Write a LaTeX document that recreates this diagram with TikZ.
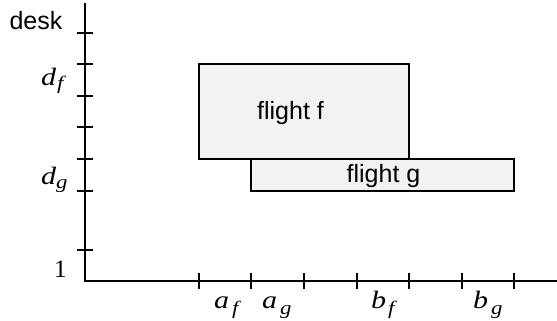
\documentclass[tikz,border=0pt]{standalone}
\usepackage{fontspec}
\setmainfont{Liberation Serif}
\newfontfamily\arialf{Liberation Sans}
\begin{document}
\begin{tikzpicture}[x=1pt,y=-1pt,
  axis/.style={line width=2.6pt},
  tickmark/.style={line width=2pt},
  flightbox/.style={draw,line width=2pt,fill=black!5,inner sep=0pt},
  sanslabel/.style={font=\arialf\fontsize{25}{28}\selectfont,inner sep=0pt},
  mathlabel/.style={font=\fontsize{25}{28}\selectfont\itshape,inner sep=0pt,anchor=base west,xscale=1.2},
  sub/.style={font=\fontsize{19}{21}\selectfont\itshape,inner sep=0pt,anchor=base west,xscale=1.2}]
\useasboundingbox (0,0) rectangle (557,321);
% axes
\coordinate (O) at (85,281);
\coordinate (ytop) at (85,3);
\coordinate (xend) at (557,281);
\draw[axis] (ytop) -- (O) -- (xend);
% y ticks
\foreach \y/\n in {33/y1,64/y2,96/y3,127/y4,159/y5,191/y6,250/y7}{
  \coordinate (\n l) at (77,\y);
  \coordinate (\n r) at (93,\y);
  \draw[tickmark] (\n l) -- (\n r);
}
% x ticks
\foreach \x/\n in {199/x1,251/x2,304/x3,357/x4,409/x5,462/x6,514/x7}{
  \coordinate (\n t) at (\x,273);
  \coordinate (\n b) at (\x,289);
  \draw[tickmark] (\n t) -- (\n b);
}
% boxes
\node[flightbox,minimum width=210pt,minimum height=95pt] (f) at (304,111.5) {};
\node[flightbox,minimum width=263pt,minimum height=32pt] (g) at (382.5,175) {};
\node[sanslabel] (ft) at (290.5,113) {flight f};
\node[sanslabel] (gt) at (383.5,176) {flight g};
% labels
\node[sanslabel] (desk) at (36,21) {desk};
\node[mathlabel] (df) at (41,85) {d};
\node[sub] (dfs) at (57,89) {f};
\node[mathlabel] (dg) at (41,184) {d};
\node[sub] (dgs) at (56,188) {g};
\node[font=\fontsize{25}{28}\selectfont,inner sep=0pt,anchor=base west] (one) at (54,277) {1};
\node[mathlabel] (af) at (214,308) {a};
\node[sub] (afs) at (232,314) {f};
\node[mathlabel] (ag) at (262,308) {a};
\node[sub] (ags) at (280,314) {g};
\node[mathlabel] (bf) at (371,308) {b};
\node[sub] (bfs) at (388,314) {f};
\node[mathlabel] (bg) at (473,308) {b};
\node[sub] (bgs) at (491,314) {g};
\end{tikzpicture}
\end{document}
